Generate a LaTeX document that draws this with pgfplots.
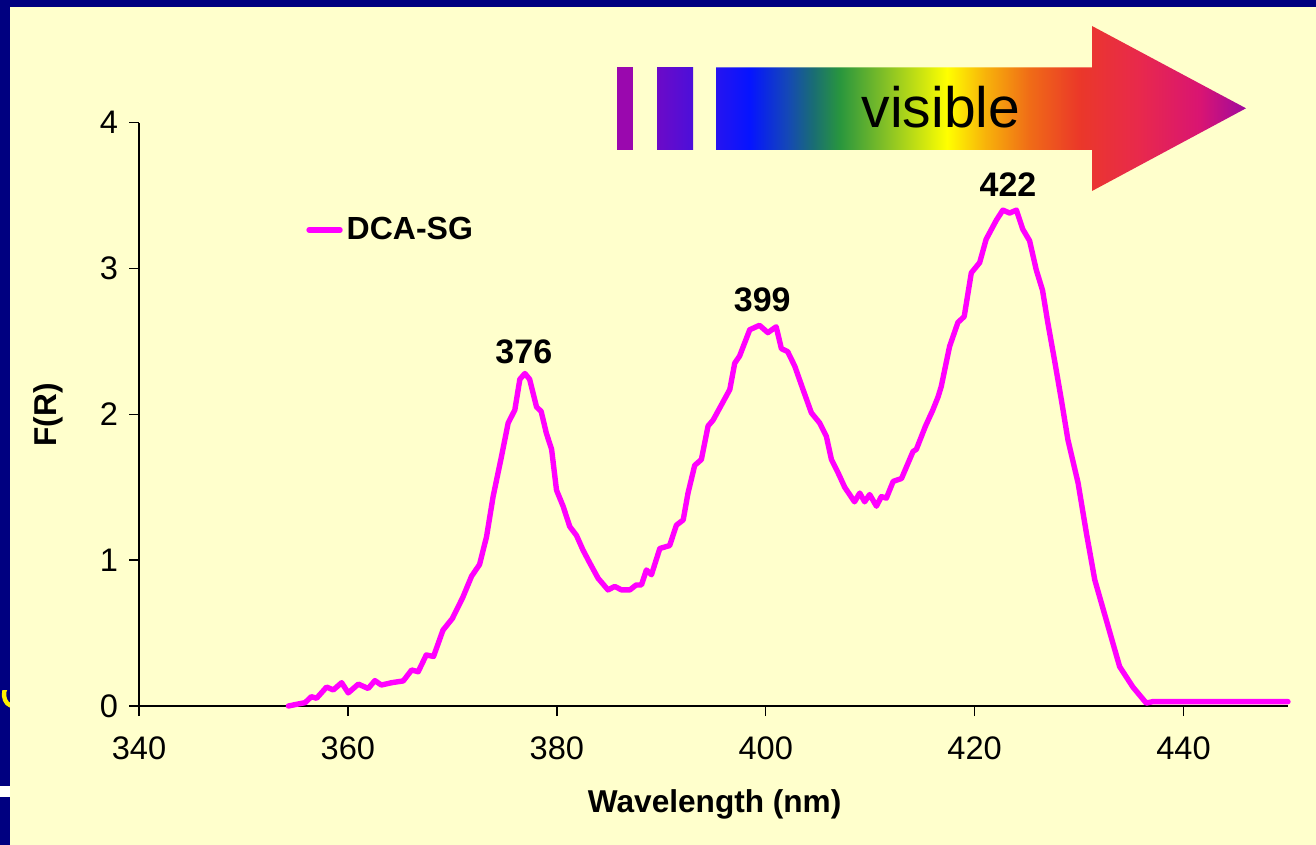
\documentclass[border=0pt]{standalone}
\usepackage{fontspec}
\setmainfont{Liberation Sans}
\usepackage{pgfplots}
\pgfplotsset{compat=1.18}
\definecolor{navy}{RGB}{0,0,128}
\definecolor{panel}{RGB}{255,255,204}
\definecolor{mag}{RGB}{255,0,255}
\pgfdeclarehorizontalshading{spectrum}{100bp}{
 rgb(0bp)=(0.15,0.08,0.94);
 rgb(25bp)=(0.15,0.08,0.94);
 rgb(28.2bp)=(0.02,0.08,1.0);
 rgb(31.7bp)=(0.08,0.28,0.72);
 rgb(34.2bp)=(0.10,0.43,0.45);
 rgb(36.7bp)=(0.16,0.59,0.24);
 rgb(41.4bp)=(0.55,0.77,0.14);
 rgb(46.8bp)=(1,1,0);
 rgb(50.4bp)=(0.97,0.70,0.04);
 rgb(54.6bp)=(0.94,0.42,0.09);
 rgb(59.2bp)=(0.92,0.22,0.16);
 rgb(65bp)=(0.91,0.16,0.30);
 rgb(70.7bp)=(0.85,0.08,0.45);
 rgb(75bp)=(0.62,0.04,0.62);
 rgb(100bp)=(0.62,0.04,0.62)}

\pgfplotstableread{
x y
354.3 0
355.25 0.014
355.9 0.023
356.5 0.064
357.0 0.053
357.96 0.13
358.6 0.11
359.4 0.16
360.03 0.09
361.0 0.15
361.94 0.12
362.58 0.174
363.2 0.144
364.2 0.16
365.3 0.172
366.1 0.247
366.73 0.235
367.5 0.35
368.2 0.34
369.1 0.52
370.0 0.60
371.0 0.745
371.84 0.89
372.6 0.97
373.27 1.16
373.9 1.436
374.7 1.71
375.34 1.94
375.98 2.03
376.46 2.24
376.94 2.28
377.4 2.24
378.06 2.05
378.5 2.02
379.0 1.87
379.5 1.76
379.97 1.48
380.6 1.37
381.24 1.23
381.88 1.17
382.5 1.07
383.16 0.98
383.95 0.876
384.9 0.796
385.55 0.82
386.19 0.796
386.99 0.796
387.6 0.83
388.1 0.83
388.58 0.933
389.06 0.9
389.86 1.08
390.8 1.1
391.45 1.24
392.1 1.276
392.56 1.46
393.2 1.65
393.84 1.69
394.48 1.92
394.96 1.96
395.76 2.065
396.56 2.17
397.03 2.35
397.5 2.40
398.47 2.58
399.4 2.61
400.2 2.56
401.0 2.60
401.5 2.45
402.1 2.43
402.78 2.33
403.57 2.17
404.37 2.01
405.17 1.94
405.8 1.85
406.29 1.69
406.92 1.60
407.56 1.50
408.5 1.40
409.0 1.46
409.47 1.40
409.95 1.45
410.6 1.37
411.07 1.436
411.55 1.425
412.2 1.54
413.0 1.56
414.1 1.745
414.42 1.76
415.3 1.92
416.0 2.03
416.5 2.12
416.8 2.19
417.6 2.465
418.4 2.63
419.0 2.67
419.68 2.97
420.48 3.04
421.1 3.20
422.07 3.33
422.7 3.40
423.35 3.38
424.0 3.40
424.6 3.27
425.26 3.19
425.9 2.99
426.5 2.85
427.0 2.63
427.65 2.37
428.3 2.10
428.93 1.825
429.9 1.53
430.7 1.185
431.5 0.865
432.6 0.59
433.88 0.27
435.15 0.13
436.43 0.02
437.06 0.03
450 0.03
}\dcasg

\begin{document}
\begin{tikzpicture}
% background
\fill[navy] (0,0) rectangle (658pt,-422.5pt);
\fill[white] (0,-393pt) rectangle (5.5pt,-398.5pt);
\begin{scope}[x=0.5pt, y=-0.5pt]
\clip (0,690) rectangle (10.4,740);
\draw[yellow, line width=2.2pt] (16,704) arc[start angle=60, end angle=300, x radius=8, y radius=11];
\end{scope}
\fill[panel] (5.2pt,-3.7pt) rectangle (658pt,-422.5pt);

% spectrum arrow decoration (pixel units: 1px = 0.5pt)
\begin{scope}[x=0.5pt, y=-0.5pt]
\fill[color={rgb,255:red,154;green,8;blue,174}] (617,67.5) rectangle (633,150);
\shade[left color={rgb,255:red,108;green,10;blue,200}, right color={rgb,255:red,76;green,15;blue,218}] (657,67.5) rectangle (693,150);
\shade[shading=spectrum] (716,67.5) -- (1092,67.5) -- (1092,26) -- (1246,108.3) -- (1092,191) -- (1092,150) -- (716,150) -- cycle;
\node[anchor=base, font=\fontsize{28.5}{30}\selectfont, text=black] at (941,127.7) {visible};
\end{scope}

\begin{axis}[
  at={(69.5pt,-353pt)}, anchor=south west,
  scale only axis, width=574.5pt, height=291.7pt,
  xmin=340, xmax=450, ymin=0, ymax=4,
  xtick={340,360,380,400,420,440}, ytick={0,1,2,3,4},
  axis x line*=bottom, axis y line*=left,
  axis line style={black, line width=0.7pt},
  tick style={black, line width=0.7pt},
  tick align=outside, major tick length=5pt,
  /pgf/number format/assume math mode=true,
  /pgf/number format/set thousands separator={},
  tick label style={font=\fontsize{16.3}{16}\selectfont, text=black},
  xticklabel style={yshift=-7pt},
  yticklabel style={xshift=-2pt},
  xlabel={Wavelength (nm)}, ylabel={F(R)},
  label style={font=\bfseries\fontsize{15.8}{16}\selectfont, text=black},
  xlabel style={at={(axis description cs:0.501,-0.168)}, anchor=center},
  ylabel style={at={(axis description cs:-0.079,0.499)}, anchor=center},
  legend style={draw=none, fill=none, at={(0.1453,0.816)}, anchor=west,
    font=\bfseries\fontsize{16}{16}\selectfont, inner sep=0pt},
  legend image code/.code={\draw[#1, line cap=round] (1.25pt,0pt) -- (16.75pt,0pt);},
  clip=false,
]
\addplot[mag, line width=2.7pt, line join=round, line cap=round] table[x=x, y=y] {\dcasg};
\addlegendentry{DCA-SG}
\node[anchor=base, font=\bfseries\fontsize{17}{17}\selectfont] at (axis cs:376.84,2.347) {376};
\node[anchor=base, font=\bfseries\fontsize{17}{17}\selectfont] at (axis cs:399.67,2.705) {399};
\node[anchor=base, font=\bfseries\fontsize{17}{17}\selectfont] at (axis cs:423.19,3.494) {422};
\end{axis}
\pgfresetboundingbox
\path (0,0) rectangle (658pt,-422.5pt);
\end{tikzpicture}
\end{document}
